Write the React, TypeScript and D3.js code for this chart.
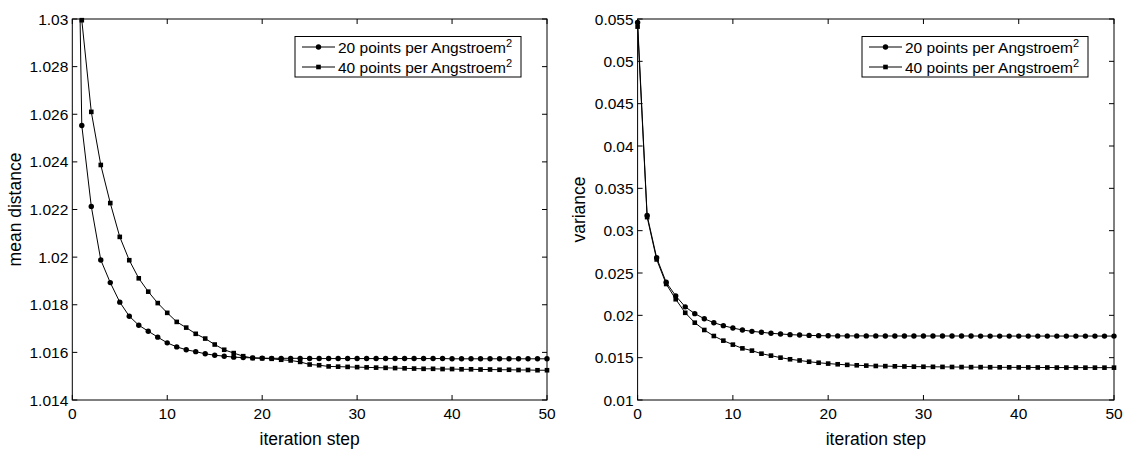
import * as d3 from "d3";

// mean distance, left panel (x = iteration step 0..50)
const meanDist20 = [
  1.0504, 1.02553, 1.02213, 1.01988, 1.01893, 1.01811, 1.01752, 1.01714, 1.01689, 1.01664,
  1.0164, 1.01623, 1.01611, 1.01603, 1.01594, 1.01588, 1.01584, 1.0158, 1.01578, 1.01577,
  1.01576, 1.01575, 1.01575, 1.01575, 1.01575, 1.01574, 1.01574, 1.01574, 1.01574, 1.01574,
  1.01574, 1.01574, 1.01574, 1.01574, 1.01574, 1.01574, 1.01574, 1.01574, 1.01574, 1.01574,
  1.01573, 1.01573, 1.01573, 1.01573, 1.01573, 1.01573, 1.01573, 1.01573, 1.01573, 1.01573,
  1.01573,
];
const meanDist40 = [
  1.06, 1.02995, 1.0261, 1.02387, 1.02227, 1.02085, 1.01987, 1.01911, 1.01855, 1.01807,
  1.01766, 1.01728, 1.01704, 1.01678, 1.01658, 1.01633, 1.01611, 1.01597, 1.01584, 1.01576,
  1.01575, 1.01573, 1.01569, 1.01566, 1.0156, 1.01549, 1.01546, 1.01541, 1.0154, 1.01539,
  1.01538, 1.01537, 1.01536, 1.01535, 1.01534, 1.01533, 1.01532, 1.01531, 1.01531, 1.0153,
  1.0153, 1.01529, 1.01529, 1.01528, 1.01528, 1.01527, 1.01527, 1.01526, 1.01526, 1.01525,
  1.01525,
];

// variance, right panel
const variance20 = [
  0.0546, 0.0318, 0.0268, 0.0239, 0.0223, 0.021, 0.0202, 0.0196, 0.01913, 0.01878,
  0.0185, 0.01827, 0.01811, 0.018, 0.01788, 0.0178, 0.01772, 0.01767, 0.01763, 0.0176,
  0.01758, 0.01757, 0.01757, 0.01757, 0.01757, 0.01757, 0.01756, 0.01756, 0.01756, 0.01756,
  0.01756, 0.01756, 0.01756, 0.01756, 0.01756, 0.01756, 0.01755, 0.01755, 0.01755, 0.01755,
  0.01755, 0.01755, 0.01755, 0.01755, 0.01755, 0.01755, 0.01755, 0.01755, 0.01755, 0.01755,
  0.01755,
];
const variance40 = [
  0.0541, 0.0316, 0.0266, 0.0237, 0.0219, 0.0203, 0.01913, 0.01827, 0.01756, 0.01701,
  0.01654, 0.0161, 0.01583, 0.01547, 0.01524, 0.015, 0.01481, 0.01467, 0.01452, 0.0144,
  0.0143, 0.01422, 0.01415, 0.0141, 0.01406, 0.01402, 0.014, 0.01398, 0.01396, 0.01394,
  0.01393, 0.01392, 0.01391, 0.0139, 0.01389, 0.01388, 0.01388, 0.01387, 0.01386, 0.01386,
  0.01385, 0.01385, 0.01384, 0.01384, 0.01383, 0.01383, 0.01383, 0.01382, 0.01382, 0.01382,
  0.01382,
];

const xTicks = [0, 10, 20, 30, 40, 50];
const meanTicks = [1.014, 1.016, 1.018, 1.02, 1.022, 1.024, 1.026, 1.028, 1.03];
const meanTickLabels = ["1.014", "1.016", "1.018", "1.02", "1.022", "1.024", "1.026", "1.028", "1.03"];
const varTicks = [0.01, 0.015, 0.02, 0.025, 0.03, 0.035, 0.04, 0.045, 0.05, 0.055];
const varTickLabels = ["0.01", "0.015", "0.02", "0.025", "0.03", "0.035", "0.04", "0.045", "0.05", "0.055"];
const legendNames = ["20 points per Angstroem", "40 points per Angstroem"];

const FONT = "'Liberation Sans', Arial, Helvetica, sans-serif";
const W = 1126, H = 452;

const Marker = ({ kind, x, y }) =>
  kind === "circle"
    ? <circle cx={x} cy={y} r={2.7} fill="#000" />
    : <rect x={x - 2.3} y={y - 2.3} width={4.6} height={4.6} fill="#000" />;

const Panel = ({ id, left, right, yDomain, yTicks, yLabels, yTitle, s20, s40, titleX }) => {
  const top = 19, bottom = 400;
  const x = d3.scaleLinear().domain([0, 50]).range([left, right]);
  const y = d3.scaleLinear().domain(yDomain).range([bottom, top]);
  const line = d3.line().x(d => x(d[0])).y(d => y(d[1]));
  const series = [
    { kind: "circle", pts: s20.map((v, i) => [i, v]) },
    { kind: "square", pts: s40.map((v, i) => [i, v]) },
  ];
  const inside = v => v >= yDomain[0] - 1e-9 && v <= yDomain[1] + 1e-9;
  const legL = right - 252, legR = right - 26, legT = 36.5, legB = 77;

  return (
    <g>
      <defs>
        <clipPath id={id}>
          <rect x={left} y={top} width={right - left} height={bottom - top} />
        </clipPath>
      </defs>
      <rect x={left} y={top} width={right - left} height={bottom - top} fill="#fff" />
      <g clipPath={`url(#${id})`}>
        {series.map((s, k) => (
          <path key={k} d={line(s.pts)} fill="none" stroke="#000" strokeWidth={1} />
        ))}
      </g>
      {series.map((s, k) => (
        <g key={k}>
          {s.pts.filter(p => inside(p[1])).map((p, i) => (
            <Marker key={i} kind={s.kind} x={x(p[0])} y={y(p[1])} />
          ))}
        </g>
      ))}
      {/* ticks, inward on all four sides */}
      {xTicks.map(t => (
        <g key={"x" + t}>
          <line x1={x(t)} x2={x(t)} y1={bottom} y2={bottom - 5} stroke="#000" />
          <line x1={x(t)} x2={x(t)} y1={top} y2={top + 5} stroke="#000" />
          <text x={x(t)} y={419} textAnchor="middle" fontSize={15.5} fontFamily={FONT}>{t}</text>
        </g>
      ))}
      {yTicks.map((t, i) => (
        <g key={"y" + t}>
          <line x1={left} x2={left + 5} y1={y(t)} y2={y(t)} stroke="#000" />
          <line x1={right} x2={right - 5} y1={y(t)} y2={y(t)} stroke="#000" />
          <text x={left - 4} y={y(t)} dy="0.36em" textAnchor="end" fontSize={15.5} fontFamily={FONT}>{yLabels[i]}</text>
        </g>
      ))}
      <rect x={left} y={top} width={right - left} height={bottom - top} fill="none" stroke="#000" strokeWidth={1} />
      <text x={(left + right) / 2} y={445} textAnchor="middle" fontSize={17.5} fontFamily={FONT}>iteration step</text>
      <text transform={`translate(${titleX},${(top + bottom) / 2}) rotate(-90)`} textAnchor="middle" fontSize={17.5} fontFamily={FONT}>{yTitle}</text>

      {/* legend */}
      <rect x={legL} y={legT} width={legR - legL} height={legB - legT} fill="#fff" stroke="#000" strokeWidth={1} />
      {legendNames.map((name, k) => {
        const ly = 47 + k * 20;
        return (
          <g key={name}>
            <line x1={legL + 7} x2={legL + 40} y1={ly} y2={ly} stroke="#000" />
            <Marker kind={k === 0 ? "circle" : "square"} x={legL + 23.5} y={ly} />
            <text x={legL + 43} y={ly} dy="0.36em" fontSize={15.5} fontFamily={FONT}>
              {name}
              <tspan dy="-0.55em" fontSize={11}>2</tspan>
            </text>
          </g>
        );
      })}
    </g>
  );
};

export default function App() {
  return (
    <svg width={W} height={H} style={{ position: "absolute", left: 0, top: 0, background: "#fff" }}>
      <rect width={W} height={H} fill="#fff" />
      <Panel id="clipL" left={72.3} right={547} yDomain={[1.014, 1.03]} yTicks={meanTicks}
        yLabels={meanTickLabels} yTitle="mean distance" s20={meanDist20} s40={meanDist40} titleX={21} />
      <Panel id="clipR" left={637.6} right={1114} yDomain={[0.01, 0.055]} yTicks={varTicks}
        yLabels={varTickLabels} yTitle="variance" s20={variance20} s40={variance40} titleX={585} />
    </svg>
  );
}
